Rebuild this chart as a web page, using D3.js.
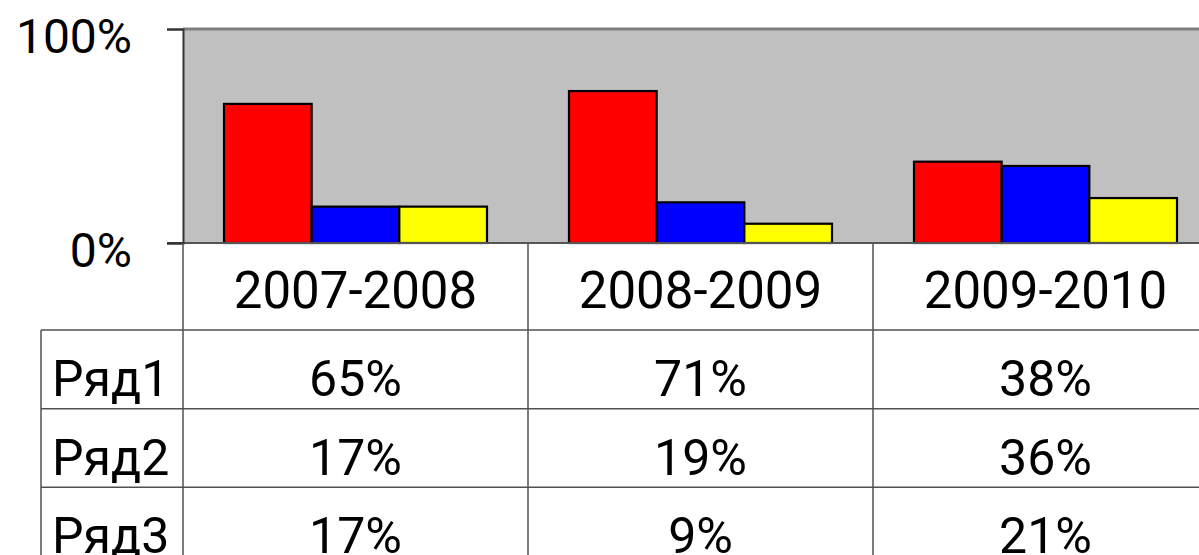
<!DOCTYPE html>
<html>
<head>
<meta charset="utf-8">
<script src="https://cdn.jsdelivr.net/npm/d3@7"></script>
<style>
  html, body { margin: 0; padding: 0; background: #fff; }
  svg { display: block; font-family: Roboto, "Noto Sans", sans-serif; }
</style>
</head>
<body>
<svg id="chart" width="1199" height="555"></svg>
<script>
(function () {
  "use strict";

  // ---- data ---------------------------------------------------------------
  var categories = ["2007-2008", "2008-2009", "2009-2010"];
  var seriesNames = ["Ряд1", "Ряд2", "Ряд3"];
  var ryad1 = [65, 71, 38];
  var ryad2 = [17, 19, 36];
  var ryad3 = [17, 9, 21];
  var yTicks = [0, 100];

  var seriesValues = [ryad1, ryad2, ryad3];
  var seriesColors = ["#FF0000", "#0000FF", "#FFFF00"];

  // ---- layout -------------------------------------------------------------
  var W = 1199, H = 555;
  var plotL = 183, plotT = 29, plotB = 243, plotR = 1218; // plot runs off the right edge
  var tableL = 41, headerB = 330, tableB = 566;
  var BORDER = "#808080", AXIS = "#333", GRID = "#505050";
  var FS = "50px";

  var svg = d3.select("#chart");

  var x0 = d3.scaleBand().domain(categories).range([plotL, plotR]).padding(0);
  var x1 = d3.scaleBand().domain(seriesNames)
    .range([41, x0.bandwidth() - 41]).padding(0);
  var y = d3.scaleLinear().domain([0, 100]).range([plotB, plotT]);
  var rowY = d3.scaleBand().domain(seriesNames).range([headerB, tableB]);

  // plot background + top border
  svg.append("rect")
    .attr("x", plotL).attr("y", y(100))
    .attr("width", plotR - plotL).attr("height", plotB - y(100))
    .attr("fill", "#C0C0C0");
  svg.append("line")
    .attr("x1", plotL).attr("x2", W)
    .attr("y1", y(100)).attr("y2", y(100))
    .attr("stroke", BORDER).attr("stroke-width", 3);

  // bars
  var groups = svg.append("g").selectAll("g").data(categories).enter().append("g")
    .attr("transform", function (c) { return "translate(" + x0(c) + ",0)"; });
  groups.selectAll("rect")
    .data(function (c, ci) {
      return seriesNames.map(function (s, si) {
        return { s: s, v: seriesValues[si][ci], col: seriesColors[si] };
      });
    })
    .enter().append("rect")
    .attr("x", function (d) { return x1(d.s); })
    .attr("y", function (d) { return y(d.v); })
    .attr("width", x1.bandwidth())
    .attr("height", function (d) { return plotB - y(d.v); })
    .attr("fill", function (d) { return d.col; })
    .attr("stroke", "#000").attr("stroke-width", 2.2);

  // x baseline (0%)
  svg.append("line")
    .attr("x1", plotL - 16).attr("x2", W)
    .attr("y1", plotB).attr("y2", plotB)
    .attr("stroke", "#555").attr("stroke-width", 2);

  // y axis
  var ay = svg.append("g").attr("transform", "translate(" + plotL + ",0)")
    .call(d3.axisLeft(y).tickValues(yTicks).tickSize(16).tickPadding(35)
      .tickFormat(function (d) { return d + "%"; }));
  ay.select(".domain").attr("stroke", AXIS).attr("stroke-width", 2);
  ay.selectAll(".tick line").attr("stroke", AXIS).attr("stroke-width", 2);
  ay.selectAll(".tick text").attr("fill", "#000").attr("dy", "0.49em")
    .style("font-size", "48px").style("font-family", "Roboto, sans-serif");

  // ---- data table ---------------------------------------------------------
  var tbl = svg.append("g");
  // vertical lines
  tbl.append("line").attr("x1", plotL).attr("x2", plotL)
    .attr("y1", plotB).attr("y2", H).attr("stroke", GRID).attr("stroke-width", 1.5);
  categories.slice(1).forEach(function (c) {
    tbl.append("line").attr("x1", x0(c)).attr("x2", x0(c))
      .attr("y1", plotB).attr("y2", H).attr("stroke", GRID).attr("stroke-width", 1.5);
  });
  tbl.append("line").attr("x1", tableL).attr("x2", tableL)
    .attr("y1", headerB).attr("y2", H).attr("stroke", GRID).attr("stroke-width", 1.5);
  // horizontal lines
  seriesNames.forEach(function (s) {
    tbl.append("line").attr("x1", tableL).attr("x2", W)
      .attr("y1", rowY(s)).attr("y2", rowY(s))
      .attr("stroke", GRID).attr("stroke-width", 1.5);
  });

  // header labels
  tbl.selectAll("text.hdr").data(categories).enter().append("text")
    .attr("class", "hdr")
    .attr("x", function (c) { return x0(c) + x0.bandwidth() / 2; })
    .attr("y", plotB + 65)
    .attr("text-anchor", "middle").attr("fill", "#000")
    .style("font-size", "51px").text(function (c) { return c; });

  // row labels + cells
  seriesNames.forEach(function (s, si) {
    var base = rowY(s) + 66;
    tbl.append("text").attr("x", tableL + 11).attr("y", base)
      .attr("fill", "#000").style("font-size", FS).text(s);
    tbl.selectAll("text.v" + si).data(seriesValues[si]).enter().append("text")
      .attr("class", "v" + si)
      .attr("x", function (d, ci) { return x0(categories[ci]) + x0.bandwidth() / 2; })
      .attr("y", base)
      .attr("text-anchor", "middle").attr("fill", "#000")
      .style("font-size", FS).text(function (d) { return d + "%"; });
  });
})();
</script>
</body>
</html>
